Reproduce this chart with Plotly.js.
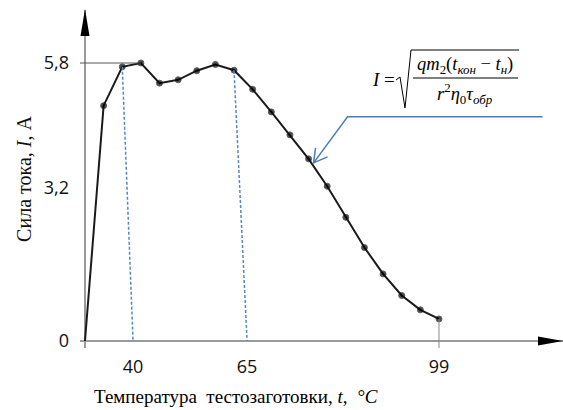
<!DOCTYPE html>
<html>
<head>
<meta charset="utf-8">
<script src="https://cdn.plot.ly/plotly-3.0.1.min.js"></script>
<style>html,body{margin:0;padding:0;background:#fff}#chart{width:563px;height:410px}</style>
</head>
<body>
<div id="chart"></div>
<script>
// ---- data ----
const sampleIndex = [0, 1, 2, 3, 4, 5, 6, 7, 8, 9, 10, 11, 12, 13, 14, 15, 16, 17, 18, 19];
const currentA = [0, 4.91, 5.72, 5.80, 5.38, 5.45, 5.64, 5.77, 5.65, 5.25, 4.78, 4.30, 3.80, 3.23, 2.58, 1.95, 1.40, 0.95, 0.65, 0.46];
const yTickVals = [0, 3.2, 5.8];
const yTickText = ['0', '3,2', '5,8'];
const xTickVals = [2.58, 8.70, 19];
const xTickText = ['40', '65', '99'];
const dropFrom = [2, 8];          // points joined to the 40 and 65 ticks
const peakIdx = 3;                // point at I = 5,8
const lastIdx = 19;               // point at t = 99
const arrowIdx = 12;              // point the formula callout points to

// ---- geometry ----
const W = 563, H = 410;
const M = {l: 80, r: 0, t: 10, b: 62};
const PW = W - M.l - M.r, PH = H - M.t - M.b;
const xRange = [-0.268, 25.657];
const yRange = [-0.146, 6.906];
const px = X => (X - M.l) / PW;
const py = Y => (H - M.b - Y) / PH;

const serif = 'Liberation Serif, Times New Roman, serif';
const sans = 'Open Sans, Noto Sans, sans-serif';
const blue = '#4a7ebb';

const traces = [
  {
    x: sampleIndex, y: currentA, type: 'scatter', mode: 'lines+markers',
    line: {color: '#1a1a1a', width: 2},
    marker: {color: '#000', size: sampleIndex.map(i => i === 0 ? 0 : 6)},
    cliponaxis: false, hoverinfo: 'x+y'
  },
  // 5,8 guide line
  {
    x: [xRange[0], sampleIndex[peakIdx]], y: [currentA[peakIdx], currentA[peakIdx]],
    type: 'scatter', mode: 'lines', line: {color: '#555', width: 1}, hoverinfo: 'skip'
  },
  // drop line at 99
  {
    x: [sampleIndex[lastIdx], sampleIndex[lastIdx]], y: [currentA[lastIdx], yRange[0]],
    type: 'scatter', mode: 'lines', line: {color: '#888', width: 1}, hoverinfo: 'skip'
  }
];
dropFrom.forEach((idx, k) => {
  traces.push({
    x: [sampleIndex[idx], xTickVals[k]], y: [currentA[idx], 0],
    type: 'scatter', mode: 'lines', line: {color: '#5585cc', width: 1.5, dash: '3px,2px'}, hoverinfo: 'skip'
  });
});

const shapes = [
  // y axis arrow
  {type: 'path', xref: 'paper', yref: 'paper',
   path: `M${px(85)},${py(9)} L${px(80.5)},${py(36)} L${px(89.5)},${py(36)} Z`,
   fillcolor: '#000', line: {width: 0}},
  // x axis arrow
  {type: 'path', xref: 'paper', yref: 'paper',
   path: `M${px(563)},${py(341)} L${px(538)},${py(336.5)} L${px(538)},${py(345.5)} Z`,
   fillcolor: '#000', line: {width: 0}},
  // formula callout: leader line with open arrowhead, anchored on a curve point (pixel offsets)
  {type: 'path', xref: 'x', yref: 'y', xsizemode: 'pixel', ysizemode: 'pixel',
   xanchor: sampleIndex[arrowIdx], yanchor: currentA[arrowIdx],
   path: 'M234,42 L39,42 L5,-4 M7,11 L5,-4 L19,2',
   line: {color: blue, width: 1.5}},
  // radical sign
  {type: 'path', xref: 'paper', yref: 'paper',
   path: `M${px(396)},${py(80)} L${px(400)},${py(77)} L${px(405)},${py(108)} L${px(411)},${py(50)} L${px(519)},${py(50)}`,
   line: {color: '#000', width: 1}},
  // fraction bar
  {type: 'line', xref: 'paper', yref: 'paper', x0: px(413), x1: px(518), y0: py(78), y1: py(78),
   line: {color: '#000', width: 1}}
];

const ann = (text, X, Y, size) => ({
  text: text, xref: 'paper', yref: 'paper', x: px(X), y: py(Y), xanchor: 'center', yanchor: 'middle',
  showarrow: false, font: {family: serif, size: size, color: '#000'}
});

const annotations = [
  ann('Температура\u00A0 тестозаготовки, <i>t</i>,\u00A0 <i>°C</i>', 236, 396, 19),
  ann('<i>I</i> =', 383, 79, 19),
  ann('<i>qm</i><sub>2</sub>(<i>t</i><sub><i>кон</i></sub> − <i>t</i><sub><i>н</i></sub>)', 465, 65, 18.5),
  ann('<i>r</i><sup>2</sup><i>η</i><sub>0</sub><i>τ</i><sub><i>обр</i></sub>', 465, 93, 18.5)
];

const layout = {
  width: W, height: H, margin: M,
  paper_bgcolor: '#fff', plot_bgcolor: '#fff', showlegend: false,
  xaxis: {
    range: xRange, showgrid: false, showline: false, zeroline: true,
    zerolinecolor: '#9a9a9a', zerolinewidth: 1.5,
    tickmode: 'array', tickvals: xTickVals, ticktext: xTickText, ticks: '',
    ticklabelstandoff: 6, tickfont: {family: sans, size: 18, color: '#111'}
  },
  yaxis: {
    range: yRange, showgrid: false, showline: false, zeroline: true,
    zerolinecolor: '#9a9a9a', zerolinewidth: 1.5,
    tickmode: 'array', tickvals: yTickVals, ticktext: yTickText, ticks: '',
    ticklabelstandoff: 10, tickfont: {family: sans, size: 18, color: '#111'},
    title: {text: 'Сила тока, <i>I</i>, А', font: {family: serif, size: 20, color: '#111'}, standoff: 6}
  },
  shapes: shapes, annotations: annotations
};

Plotly.newPlot('chart', traces, layout, {displayModeBar: false, staticPlot: true});
</script>
</body>
</html>
